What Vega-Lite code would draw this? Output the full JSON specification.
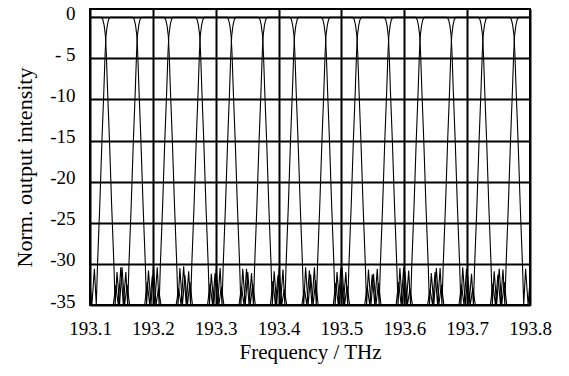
{
"$schema": "https://vega.github.io/schema/vega-lite/v6.json",
"width": 440, "height": 296,
"autosize": "none",
"padding": {"left": 90, "top": 9, "right": 39, "bottom": 71},
"config": {"view": {"stroke": "black", "strokeWidth": 2}, "font": "Liberation Serif"},
"data": {"values": [
{"c":100,"f":193.100,"y":0},{"c":100,"f":193.118,"y":0},{"c":100,"f":193.1205,"y":-0.3},{"c":100,"f":193.1225,"y":-1},{"c":100,"f":193.1245,"y":-2.2},{"c":100,"f":193.126,"y":-4.5},{"c":100,"f":193.128,"y":-9},{"c":100,"f":193.131,"y":-15},{"c":100,"f":193.1345,"y":-23},{"c":100,"f":193.138,"y":-30},{"c":100,"f":193.140,"y":-35},{"c":100,"f":193.143,"y":-31},{"c":100,"f":193.147,"y":-35},{"c":100,"f":193.151,"y":-30.4},{"c":100,"f":193.155,"y":-35},{"c":100,"f":193.159,"y":-32.5},{"c":100,"f":193.163,"y":-35},

{"c":150,"f":193.087,"y":-35},{"c":150,"f":193.091,"y":-32},{"c":150,"f":193.095,"y":-35},{"c":150,"f":193.099,"y":-31.2},{"c":150,"f":193.103,"y":-35},{"c":150,"f":193.107,"y":-30.6},{"c":150,"f":193.110,"y":-35},{"c":150,"f":193.112,"y":-30},{"c":150,"f":193.1155,"y":-23},{"c":150,"f":193.119,"y":-15},{"c":150,"f":193.122,"y":-9},{"c":150,"f":193.124,"y":-4.5},{"c":150,"f":193.1255,"y":-2.2},{"c":150,"f":193.1275,"y":-1},{"c":150,"f":193.1295,"y":-0.3},{"c":150,"f":193.132,"y":0},
{"c":150,"f":193.168,"y":0},{"c":150,"f":193.1705,"y":-0.3},{"c":150,"f":193.1725,"y":-1},{"c":150,"f":193.1745,"y":-2.2},{"c":150,"f":193.176,"y":-4.5},{"c":150,"f":193.178,"y":-9},{"c":150,"f":193.181,"y":-15},{"c":150,"f":193.1845,"y":-23},{"c":150,"f":193.188,"y":-30},{"c":150,"f":193.190,"y":-35},{"c":150,"f":193.193,"y":-30.8},{"c":150,"f":193.197,"y":-35},{"c":150,"f":193.201,"y":-30.3},{"c":150,"f":193.205,"y":-35},{"c":150,"f":193.209,"y":-33},{"c":150,"f":193.213,"y":-35},

{"c":200,"f":193.137,"y":-35},{"c":200,"f":193.141,"y":-32.6},{"c":200,"f":193.145,"y":-35},{"c":200,"f":193.149,"y":-30.4},{"c":200,"f":193.153,"y":-35},{"c":200,"f":193.157,"y":-31},{"c":200,"f":193.160,"y":-35},{"c":200,"f":193.162,"y":-30},{"c":200,"f":193.1655,"y":-23},{"c":200,"f":193.169,"y":-15},{"c":200,"f":193.172,"y":-9},{"c":200,"f":193.174,"y":-4.5},{"c":200,"f":193.1755,"y":-2.2},{"c":200,"f":193.1775,"y":-1},{"c":200,"f":193.1795,"y":-0.3},{"c":200,"f":193.182,"y":0},
{"c":200,"f":193.218,"y":0},{"c":200,"f":193.2205,"y":-0.3},{"c":200,"f":193.2225,"y":-1},{"c":200,"f":193.2245,"y":-2.2},{"c":200,"f":193.226,"y":-4.5},{"c":200,"f":193.228,"y":-9},{"c":200,"f":193.231,"y":-15},{"c":200,"f":193.2345,"y":-23},{"c":200,"f":193.238,"y":-30},{"c":200,"f":193.240,"y":-35},{"c":200,"f":193.243,"y":-30.5},{"c":200,"f":193.247,"y":-35},{"c":200,"f":193.251,"y":-31.4},{"c":200,"f":193.255,"y":-35},{"c":200,"f":193.259,"y":-32.2},{"c":200,"f":193.263,"y":-35},

{"c":250,"f":193.187,"y":-35},{"c":250,"f":193.191,"y":-32.2},{"c":250,"f":193.195,"y":-35},{"c":250,"f":193.199,"y":-31.5},{"c":250,"f":193.203,"y":-35},{"c":250,"f":193.207,"y":-30.4},{"c":250,"f":193.210,"y":-35},{"c":250,"f":193.212,"y":-30},{"c":250,"f":193.2155,"y":-23},{"c":250,"f":193.219,"y":-15},{"c":250,"f":193.222,"y":-9},{"c":250,"f":193.224,"y":-4.5},{"c":250,"f":193.2255,"y":-2.2},{"c":250,"f":193.2275,"y":-1},{"c":250,"f":193.2295,"y":-0.3},{"c":250,"f":193.232,"y":0},
{"c":250,"f":193.268,"y":0},{"c":250,"f":193.2705,"y":-0.3},{"c":250,"f":193.2725,"y":-1},{"c":250,"f":193.2745,"y":-2.2},{"c":250,"f":193.276,"y":-4.5},{"c":250,"f":193.278,"y":-9},{"c":250,"f":193.281,"y":-15},{"c":250,"f":193.2845,"y":-23},{"c":250,"f":193.288,"y":-30},{"c":250,"f":193.290,"y":-35},{"c":250,"f":193.293,"y":-31.2},{"c":250,"f":193.297,"y":-35},{"c":250,"f":193.301,"y":-30.6},{"c":250,"f":193.305,"y":-35},{"c":250,"f":193.309,"y":-32.8},{"c":250,"f":193.313,"y":-35},

{"c":300,"f":193.237,"y":-35},{"c":300,"f":193.241,"y":-33},{"c":300,"f":193.245,"y":-35},{"c":300,"f":193.249,"y":-30.3},{"c":300,"f":193.253,"y":-35},{"c":300,"f":193.257,"y":-30.9},{"c":300,"f":193.260,"y":-35},{"c":300,"f":193.262,"y":-30},{"c":300,"f":193.2655,"y":-23},{"c":300,"f":193.269,"y":-15},{"c":300,"f":193.272,"y":-9},{"c":300,"f":193.274,"y":-4.5},{"c":300,"f":193.2755,"y":-2.2},{"c":300,"f":193.2775,"y":-1},{"c":300,"f":193.2795,"y":-0.3},{"c":300,"f":193.282,"y":0},
{"c":300,"f":193.318,"y":0},{"c":300,"f":193.3205,"y":-0.3},{"c":300,"f":193.3225,"y":-1},{"c":300,"f":193.3245,"y":-2.2},{"c":300,"f":193.326,"y":-4.5},{"c":300,"f":193.328,"y":-9},{"c":300,"f":193.331,"y":-15},{"c":300,"f":193.3345,"y":-23},{"c":300,"f":193.338,"y":-30},{"c":300,"f":193.340,"y":-35},{"c":300,"f":193.343,"y":-30.6},{"c":300,"f":193.347,"y":-35},{"c":300,"f":193.351,"y":-31},{"c":300,"f":193.355,"y":-35},{"c":300,"f":193.359,"y":-32.4},{"c":300,"f":193.363,"y":-35},

{"c":350,"f":193.287,"y":-35},{"c":350,"f":193.291,"y":-32.4},{"c":350,"f":193.295,"y":-35},{"c":350,"f":193.299,"y":-31.1},{"c":350,"f":193.303,"y":-35},{"c":350,"f":193.307,"y":-30.5},{"c":350,"f":193.310,"y":-35},{"c":350,"f":193.312,"y":-30},{"c":350,"f":193.3155,"y":-23},{"c":350,"f":193.319,"y":-15},{"c":350,"f":193.322,"y":-9},{"c":350,"f":193.324,"y":-4.5},{"c":350,"f":193.3255,"y":-2.2},{"c":350,"f":193.3275,"y":-1},{"c":350,"f":193.3295,"y":-0.3},{"c":350,"f":193.332,"y":0},
{"c":350,"f":193.368,"y":0},{"c":350,"f":193.3705,"y":-0.3},{"c":350,"f":193.3725,"y":-1},{"c":350,"f":193.3745,"y":-2.2},{"c":350,"f":193.376,"y":-4.5},{"c":350,"f":193.378,"y":-9},{"c":350,"f":193.381,"y":-15},{"c":350,"f":193.3845,"y":-23},{"c":350,"f":193.388,"y":-30},{"c":350,"f":193.390,"y":-35},{"c":350,"f":193.393,"y":-30.9},{"c":350,"f":193.397,"y":-35},{"c":350,"f":193.401,"y":-30.5},{"c":350,"f":193.405,"y":-35},{"c":350,"f":193.409,"y":-33.1},{"c":350,"f":193.413,"y":-35},

{"c":400,"f":193.337,"y":-35},{"c":400,"f":193.341,"y":-32.8},{"c":400,"f":193.345,"y":-35},{"c":400,"f":193.349,"y":-30.6},{"c":400,"f":193.353,"y":-35},{"c":400,"f":193.357,"y":-31.1},{"c":400,"f":193.360,"y":-35},{"c":400,"f":193.362,"y":-30},{"c":400,"f":193.3655,"y":-23},{"c":400,"f":193.369,"y":-15},{"c":400,"f":193.372,"y":-9},{"c":400,"f":193.374,"y":-4.5},{"c":400,"f":193.3755,"y":-2.2},{"c":400,"f":193.3775,"y":-1},{"c":400,"f":193.3795,"y":-0.3},{"c":400,"f":193.382,"y":0},
{"c":400,"f":193.418,"y":0},{"c":400,"f":193.4205,"y":-0.3},{"c":400,"f":193.4225,"y":-1},{"c":400,"f":193.4245,"y":-2.2},{"c":400,"f":193.426,"y":-4.5},{"c":400,"f":193.428,"y":-9},{"c":400,"f":193.431,"y":-15},{"c":400,"f":193.4345,"y":-23},{"c":400,"f":193.438,"y":-30},{"c":400,"f":193.440,"y":-35},{"c":400,"f":193.443,"y":-30.4},{"c":400,"f":193.447,"y":-35},{"c":400,"f":193.451,"y":-31.3},{"c":400,"f":193.455,"y":-35},{"c":400,"f":193.459,"y":-32},{"c":400,"f":193.463,"y":-35},

{"c":450,"f":193.387,"y":-35},{"c":450,"f":193.391,"y":-32.1},{"c":450,"f":193.395,"y":-35},{"c":450,"f":193.399,"y":-31.4},{"c":450,"f":193.403,"y":-35},{"c":450,"f":193.407,"y":-30.7},{"c":450,"f":193.410,"y":-35},{"c":450,"f":193.412,"y":-30},{"c":450,"f":193.4155,"y":-23},{"c":450,"f":193.419,"y":-15},{"c":450,"f":193.422,"y":-9},{"c":450,"f":193.424,"y":-4.5},{"c":450,"f":193.4255,"y":-2.2},{"c":450,"f":193.4275,"y":-1},{"c":450,"f":193.4295,"y":-0.3},{"c":450,"f":193.432,"y":0},
{"c":450,"f":193.468,"y":0},{"c":450,"f":193.4705,"y":-0.3},{"c":450,"f":193.4725,"y":-1},{"c":450,"f":193.4745,"y":-2.2},{"c":450,"f":193.476,"y":-4.5},{"c":450,"f":193.478,"y":-9},{"c":450,"f":193.481,"y":-15},{"c":450,"f":193.4845,"y":-23},{"c":450,"f":193.488,"y":-30},{"c":450,"f":193.490,"y":-35},{"c":450,"f":193.493,"y":-31},{"c":450,"f":193.497,"y":-35},{"c":450,"f":193.501,"y":-30.4},{"c":450,"f":193.505,"y":-35},{"c":450,"f":193.509,"y":-32.7},{"c":450,"f":193.513,"y":-35},

{"c":500,"f":193.437,"y":-35},{"c":500,"f":193.441,"y":-33},{"c":500,"f":193.445,"y":-35},{"c":500,"f":193.449,"y":-30.8},{"c":500,"f":193.453,"y":-35},{"c":500,"f":193.457,"y":-30.4},{"c":500,"f":193.460,"y":-35},{"c":500,"f":193.462,"y":-30},{"c":500,"f":193.4655,"y":-23},{"c":500,"f":193.469,"y":-15},{"c":500,"f":193.472,"y":-9},{"c":500,"f":193.474,"y":-4.5},{"c":500,"f":193.4755,"y":-2.2},{"c":500,"f":193.4775,"y":-1},{"c":500,"f":193.4795,"y":-0.3},{"c":500,"f":193.482,"y":0},
{"c":500,"f":193.518,"y":0},{"c":500,"f":193.5205,"y":-0.3},{"c":500,"f":193.5225,"y":-1},{"c":500,"f":193.5245,"y":-2.2},{"c":500,"f":193.526,"y":-4.5},{"c":500,"f":193.528,"y":-9},{"c":500,"f":193.531,"y":-15},{"c":500,"f":193.5345,"y":-23},{"c":500,"f":193.538,"y":-30},{"c":500,"f":193.540,"y":-35},{"c":500,"f":193.543,"y":-30.7},{"c":500,"f":193.547,"y":-35},{"c":500,"f":193.551,"y":-31.2},{"c":500,"f":193.555,"y":-35},{"c":500,"f":193.559,"y":-32.3},{"c":500,"f":193.563,"y":-35},

{"c":550,"f":193.487,"y":-35},{"c":550,"f":193.491,"y":-32.3},{"c":550,"f":193.495,"y":-35},{"c":550,"f":193.499,"y":-30.5},{"c":550,"f":193.503,"y":-35},{"c":550,"f":193.507,"y":-31},{"c":550,"f":193.510,"y":-35},{"c":550,"f":193.512,"y":-30},{"c":550,"f":193.5155,"y":-23},{"c":550,"f":193.519,"y":-15},{"c":550,"f":193.522,"y":-9},{"c":550,"f":193.524,"y":-4.5},{"c":550,"f":193.5255,"y":-2.2},{"c":550,"f":193.5275,"y":-1},{"c":550,"f":193.5295,"y":-0.3},{"c":550,"f":193.532,"y":0},
{"c":550,"f":193.568,"y":0},{"c":550,"f":193.5705,"y":-0.3},{"c":550,"f":193.5725,"y":-1},{"c":550,"f":193.5745,"y":-2.2},{"c":550,"f":193.576,"y":-4.5},{"c":550,"f":193.578,"y":-9},{"c":550,"f":193.581,"y":-15},{"c":550,"f":193.5845,"y":-23},{"c":550,"f":193.588,"y":-30},{"c":550,"f":193.590,"y":-35},{"c":550,"f":193.593,"y":-30.5},{"c":550,"f":193.597,"y":-35},{"c":550,"f":193.601,"y":-30.9},{"c":550,"f":193.605,"y":-35},{"c":550,"f":193.609,"y":-33},{"c":550,"f":193.613,"y":-35},

{"c":600,"f":193.537,"y":-35},{"c":600,"f":193.541,"y":-32.7},{"c":600,"f":193.545,"y":-35},{"c":600,"f":193.549,"y":-31.3},{"c":600,"f":193.553,"y":-35},{"c":600,"f":193.557,"y":-30.6},{"c":600,"f":193.560,"y":-35},{"c":600,"f":193.562,"y":-30},{"c":600,"f":193.5655,"y":-23},{"c":600,"f":193.569,"y":-15},{"c":600,"f":193.572,"y":-9},{"c":600,"f":193.574,"y":-4.5},{"c":600,"f":193.5755,"y":-2.2},{"c":600,"f":193.5775,"y":-1},{"c":600,"f":193.5795,"y":-0.3},{"c":600,"f":193.582,"y":0},
{"c":600,"f":193.618,"y":0},{"c":600,"f":193.6205,"y":-0.3},{"c":600,"f":193.6225,"y":-1},{"c":600,"f":193.6245,"y":-2.2},{"c":600,"f":193.626,"y":-4.5},{"c":600,"f":193.628,"y":-9},{"c":600,"f":193.631,"y":-15},{"c":600,"f":193.6345,"y":-23},{"c":600,"f":193.638,"y":-30},{"c":600,"f":193.640,"y":-35},{"c":600,"f":193.643,"y":-31.1},{"c":600,"f":193.647,"y":-35},{"c":600,"f":193.651,"y":-30.5},{"c":600,"f":193.655,"y":-35},{"c":600,"f":193.659,"y":-32.5},{"c":600,"f":193.663,"y":-35},

{"c":650,"f":193.587,"y":-35},{"c":650,"f":193.591,"y":-32.2},{"c":650,"f":193.595,"y":-35},{"c":650,"f":193.599,"y":-30.4},{"c":650,"f":193.603,"y":-35},{"c":650,"f":193.607,"y":-30.8},{"c":650,"f":193.610,"y":-35},{"c":650,"f":193.612,"y":-30},{"c":650,"f":193.6155,"y":-23},{"c":650,"f":193.619,"y":-15},{"c":650,"f":193.622,"y":-9},{"c":650,"f":193.624,"y":-4.5},{"c":650,"f":193.6255,"y":-2.2},{"c":650,"f":193.6275,"y":-1},{"c":650,"f":193.6295,"y":-0.3},{"c":650,"f":193.632,"y":0},
{"c":650,"f":193.668,"y":0},{"c":650,"f":193.6705,"y":-0.3},{"c":650,"f":193.6725,"y":-1},{"c":650,"f":193.6745,"y":-2.2},{"c":650,"f":193.676,"y":-4.5},{"c":650,"f":193.678,"y":-9},{"c":650,"f":193.681,"y":-15},{"c":650,"f":193.6845,"y":-23},{"c":650,"f":193.688,"y":-30},{"c":650,"f":193.690,"y":-35},{"c":650,"f":193.693,"y":-30.4},{"c":650,"f":193.697,"y":-35},{"c":650,"f":193.701,"y":-31.4},{"c":650,"f":193.705,"y":-35},{"c":650,"f":193.709,"y":-32.9},{"c":650,"f":193.713,"y":-35},

{"c":700,"f":193.637,"y":-35},{"c":700,"f":193.641,"y":-33.1},{"c":700,"f":193.645,"y":-35},{"c":700,"f":193.649,"y":-31},{"c":700,"f":193.653,"y":-35},{"c":700,"f":193.657,"y":-30.5},{"c":700,"f":193.660,"y":-35},{"c":700,"f":193.662,"y":-30},{"c":700,"f":193.6655,"y":-23},{"c":700,"f":193.669,"y":-15},{"c":700,"f":193.672,"y":-9},{"c":700,"f":193.674,"y":-4.5},{"c":700,"f":193.6755,"y":-2.2},{"c":700,"f":193.6775,"y":-1},{"c":700,"f":193.6795,"y":-0.3},{"c":700,"f":193.682,"y":0},
{"c":700,"f":193.718,"y":0},{"c":700,"f":193.7205,"y":-0.3},{"c":700,"f":193.7225,"y":-1},{"c":700,"f":193.7245,"y":-2.2},{"c":700,"f":193.726,"y":-4.5},{"c":700,"f":193.728,"y":-9},{"c":700,"f":193.731,"y":-15},{"c":700,"f":193.7345,"y":-23},{"c":700,"f":193.738,"y":-30},{"c":700,"f":193.740,"y":-35},{"c":700,"f":193.743,"y":-30.9},{"c":700,"f":193.747,"y":-35},{"c":700,"f":193.751,"y":-30.6},{"c":700,"f":193.755,"y":-35},{"c":700,"f":193.759,"y":-32.2},{"c":700,"f":193.763,"y":-35},

{"c":750,"f":193.687,"y":-35},{"c":750,"f":193.691,"y":-32.5},{"c":750,"f":193.695,"y":-35},{"c":750,"f":193.699,"y":-30.6},{"c":750,"f":193.703,"y":-35},{"c":750,"f":193.707,"y":-31.2},{"c":750,"f":193.710,"y":-35},{"c":750,"f":193.712,"y":-30},{"c":750,"f":193.7155,"y":-23},{"c":750,"f":193.719,"y":-15},{"c":750,"f":193.722,"y":-9},{"c":750,"f":193.724,"y":-4.5},{"c":750,"f":193.7255,"y":-2.2},{"c":750,"f":193.7275,"y":-1},{"c":750,"f":193.7295,"y":-0.3},{"c":750,"f":193.732,"y":0},
{"c":750,"f":193.768,"y":0},{"c":750,"f":193.7705,"y":-0.3},{"c":750,"f":193.7725,"y":-1},{"c":750,"f":193.7745,"y":-2.2},{"c":750,"f":193.776,"y":-4.5},{"c":750,"f":193.778,"y":-9},{"c":750,"f":193.781,"y":-15},{"c":750,"f":193.7845,"y":-23},{"c":750,"f":193.788,"y":-30},{"c":750,"f":193.790,"y":-35},{"c":750,"f":193.793,"y":-30.6},{"c":750,"f":193.797,"y":-35},{"c":750,"f":193.801,"y":-31.1},

{"c":800,"f":193.737,"y":-35},{"c":800,"f":193.741,"y":-32.4},{"c":800,"f":193.745,"y":-35},{"c":800,"f":193.749,"y":-31.3},{"c":800,"f":193.753,"y":-35},{"c":800,"f":193.757,"y":-30.7},{"c":800,"f":193.760,"y":-35},{"c":800,"f":193.762,"y":-30},{"c":800,"f":193.7655,"y":-23},{"c":800,"f":193.769,"y":-15},{"c":800,"f":193.772,"y":-9},{"c":800,"f":193.774,"y":-4.5},{"c":800,"f":193.7755,"y":-2.2},{"c":800,"f":193.7775,"y":-1},{"c":800,"f":193.7795,"y":-0.3},{"c":800,"f":193.782,"y":0},{"c":800,"f":193.800,"y":0}
]},
"mark": {"type": "line", "color": "black", "strokeWidth": 1.1, "clip": true},
"encoding": {
  "x": {"field": "f", "type": "quantitative",
    "scale": {"domain": [193.1, 193.8], "nice": false, "zero": false},
    "axis": {"values": [193.1, 193.2, 193.3, 193.4, 193.5, 193.6, 193.7, 193.8], "format": ".1f",
      "grid": true, "gridColor": "black", "gridWidth": 2, "gridOpacity": 1,
      "ticks": false, "domain": false, "labelFlush": false,
      "labelFont": "Liberation Serif", "labelFontSize": 19, "labelColor": "black", "labelPadding": 14,
      "title": "Frequency / THz", "titleFont": "Liberation Serif", "titleFontSize": 21, "titleFontWeight": "normal", "titleColor": "black", "titlePadding": 3}},
  "y": {"field": "y", "type": "quantitative",
    "scale": {"domain": [-35, 1], "nice": false, "zero": false},
    "axis": {"values": [0, -5, -10, -15, -20, -25, -30, -35],
      "labelExpr": "datum.value == 0 ? '0' : datum.value == -5 ? '- 5' : '-' + abs(datum.value)",
      "grid": true, "gridColor": "black", "gridWidth": 2, "gridOpacity": 1,
      "ticks": false, "domain": false, "labelFlush": false,
      "labelFont": "Liberation Serif", "labelFontSize": 19, "labelColor": "black", "labelPadding": 15, "labelOffset": -4,
      "title": "Norm. output intensity", "titleFont": "Liberation Serif", "titleFontSize": 22, "titleFontWeight": "normal", "titleColor": "black",
      "titleX": -66, "titleY": 158, "titleAngle": -90, "titleAlign": "center", "titleBaseline": "middle"}},
  "detail": {"field": "c", "type": "nominal"}
}
}
